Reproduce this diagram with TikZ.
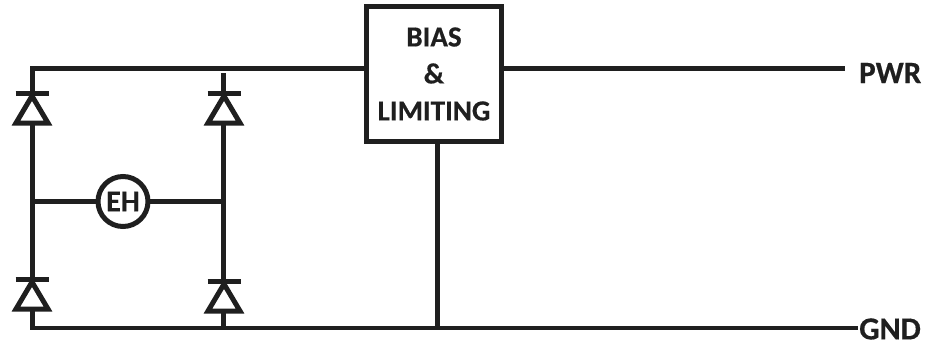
\documentclass[tikz,border=0pt]{standalone}
\usepackage{fontspec}
\setmainfont{Carlito}[BoldFeatures={FakeBold=0.5}]
\usetikzlibrary{positioning}
\tikzstyle{line} = [draw, color=black!88, line width=5pt]
\tikzstyle{thin line} = [draw, color=black!88, line width=4pt]
\tikzstyle{block} = [draw, color=black!88, line width=5pt, rectangle, fill=white, minimum width=135pt, minimum height=135pt, inner sep=0pt, align=center, font=\bfseries\fontsize{29}{37}\selectfont]
\tikzstyle{source} = [draw, color=black!88, line width=5pt, circle, fill=white, minimum size=50pt, inner sep=0pt, font=\bfseries\fontsize{30}{30}\selectfont]
\tikzstyle{label} = [color=black!88, font=\bfseries\fontsize{31}{36}\selectfont, inner sep=0pt, anchor=west]
\tikzset{
  diode/.pic={
    \draw [color=black!88, line width=5pt, fill=white, miter limit=10] (0,0) -- (-16,27) -- (16,27) -- cycle;
    \draw [color=black!88, line width=5pt] (-16.5,-3) -- (16.5,-3);
  }
}
\pgfdeclarelayer{background}
\pgfsetlayers{background,main}

\begin{document}
\begin{tikzpicture}[x=1pt, y=-1pt]
    \useasboundingbox (0,0) rectangle (939,341);
    % Place nodes
    \node [block] (bias) at (434,74) {BIAS\\\&\\LIMITING};
    \node [source] (eh) at (123,201.5) {EH};
    \node [label] (pwr) at (859,73) {PWR};
    \node [label, font=\bfseries\fontsize{32}{36}\selectfont] (gnd) at (859,329) {GND};
    % Corners and ends of the wires
    \coordinate (top-left) at (32,68);
    \coordinate (top-right) at (223,73);
    \coordinate (bottom-left) at (32,328);
    \coordinate (bottom-right) at (223,328);
    \coordinate (mid-left) at (32,201);
    \coordinate (mid-right) at (223,201);
    \coordinate (bias-bottom) at (437,328);
    \coordinate (pwr-end) at (845,68);
    \coordinate (gnd-end) at (856,328);
    % Draw edges
    \begin{pgfonlayer}{background}
    \path [line, line cap=rect] (top-left) -- (top-left -| bias.center);
    \path [line] (top-left -| bias.center) -- (pwr-end);
    \path [line] (top-left) -- (bottom-left);
    \path [line] (top-right) -- (bottom-right);
    \path [line] (mid-left) -- (mid-left -| eh.center);
    \path [line] (mid-left -| eh.center) -- (mid-right);
    \path [line] (bias-bottom |- bias.center) -- (bias-bottom);
    \path [thin line, line cap=rect] (bottom-left) -- (gnd-end);
    \end{pgfonlayer}
    % Diodes
    \pic at (32,96) {diode};
    \pic at (224,96) {diode};
    \pic at (32,282) {diode};
    \pic at (224,284) {diode};
\end{tikzpicture}
\end{document}
